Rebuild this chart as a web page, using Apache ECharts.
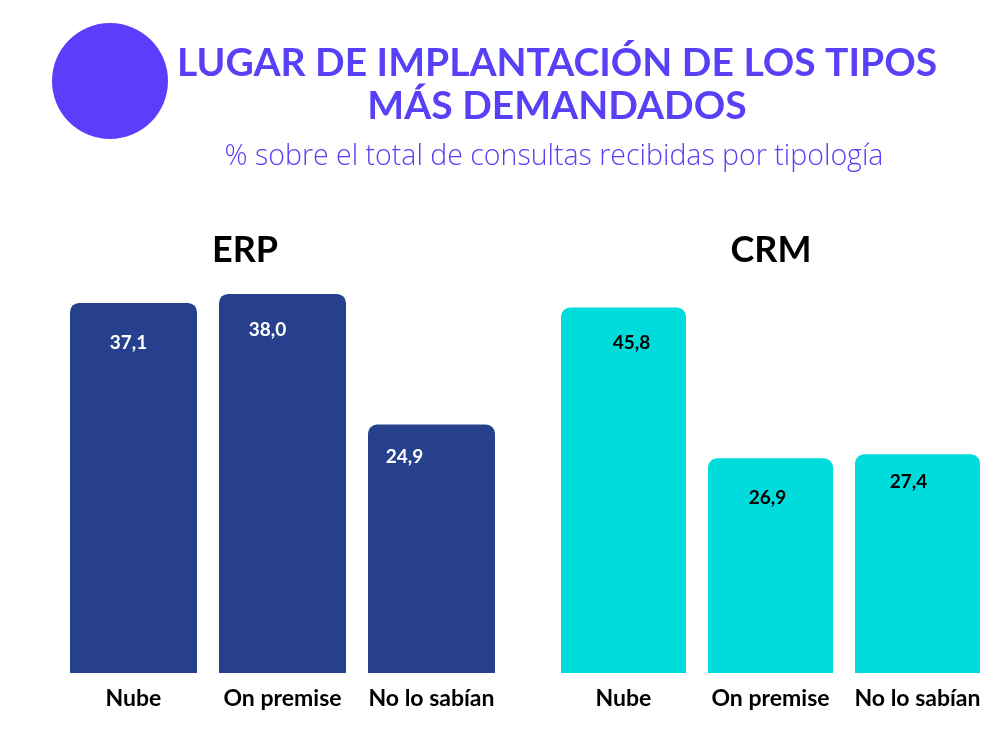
<!DOCTYPE html>
<html>
<head>
<meta charset="utf-8">
<script src="https://cdn.jsdelivr.net/npm/echarts@6/dist/echarts.min.js"></script>
<style>
html,body{margin:0;padding:0;background:#fff;}
#chart{width:1007px;height:738px;}
</style>
</head>
<body>
<div id="chart"></div>
<script>
const categories = ['Nube', 'On premise', 'No lo sabían'];
const erpValues = [37.1, 38.0, 24.9];
const crmValues = [45.8, 26.9, 27.4];
const panelTitles = ['ERP', 'CRM'];
const titleLine1 = 'LUGAR DE IMPLANTACIÓN DE LOS TIPOS';
const titleLine2 = 'MÁS DEMANDADOS';
const subtitleText = '% sobre el total de consultas recibidas por tipología';

// label placement tweaks (style only)
const erpLabelOffsets = [[-5, 40], [-15, 36], [-27, 32]];
const crmLabelOffsets = [[8, 35], [-3, 40], [-9, 28]];

const fontMain = 'Lato, "Open Sans", sans-serif';
const purple = '#5840f6';

function fmt(v) { return v.toFixed(1).replace('.', ','); }

function makeData(values, offsets) {
  return values.map((v, i) => ({
    value: v,
    label: { offset: offsets[i] }
  }));
}

function txt(text, x, y, font, size, weight, color) {
  return {
    type: 'text', x: x, y: y,
    style: { text: text, fill: color, font: weight + ' ' + size + 'px ' + font, textAlign: 'center', textVerticalAlign: 'middle' }
  };
}

const chart = echarts.init(document.getElementById('chart'));
chart.setOption({
  backgroundColor: '#ffffff',
  animation: false,
  graphic: [
    { type: 'circle', shape: { cx: 110, cy: 81, r: 58 }, style: { fill: '#5b3dfb' } },
    txt(titleLine1, 557, 63, fontMain, 39, 'bold', purple),
    txt(titleLine2, 557, 106, fontMain, 39, 'bold', purple),
    txt(subtitleText, 554, 157, '"Open Sans", Lato, sans-serif', 28.5, 300, purple),
    txt(panelTitles[0], 245, 250, fontMain, 36, 'bold', '#000'),
    txt(panelTitles[1], 771, 250, fontMain, 36, 'bold', '#000')
  ],
  grid: [
    { left: 59, top: 274, width: 447, height: 399 },
    { left: 550, top: 274, width: 441, height: 399 }
  ],
  xAxis: [0, 1].map(i => ({
    type: 'category', gridIndex: i, data: categories,
    axisLine: { show: false }, axisTick: { show: false },
    axisLabel: { interval: 0, color: '#000', fontFamily: fontMain, fontWeight: 'bold', fontSize: 23, margin: 14 }
  })),
  yAxis: [
    { type: 'value', gridIndex: 0, min: 0, max: 40, show: false, splitLine: { show: false } },
    { type: 'value', gridIndex: 1, min: 0, max: 50, show: false, splitLine: { show: false } }
  ],
  series: [
    {
      type: 'bar', xAxisIndex: 0, yAxisIndex: 0, barWidth: 127,
      data: makeData(erpValues, erpLabelOffsets),
      itemStyle: { color: '#27408e', borderRadius: [9, 9, 0, 0] },
      label: {
        show: true, position: ['50%', 0], align: 'center', verticalAlign: 'middle',
        color: '#fff', fontFamily: fontMain, fontWeight: 'bold', fontSize: 19,
        formatter: p => fmt(p.value)
      }
    },
    {
      type: 'bar', xAxisIndex: 1, yAxisIndex: 1, barWidth: 125,
      data: makeData(crmValues, crmLabelOffsets),
      itemStyle: { color: '#00dcdc', borderRadius: [9, 9, 0, 0] },
      label: {
        show: true, position: ['50%', 0], align: 'center', verticalAlign: 'middle',
        color: '#000', fontFamily: fontMain, fontWeight: 'bold', fontSize: 19,
        formatter: p => fmt(p.value)
      }
    }
  ]
});
</script>
</body>
</html>
